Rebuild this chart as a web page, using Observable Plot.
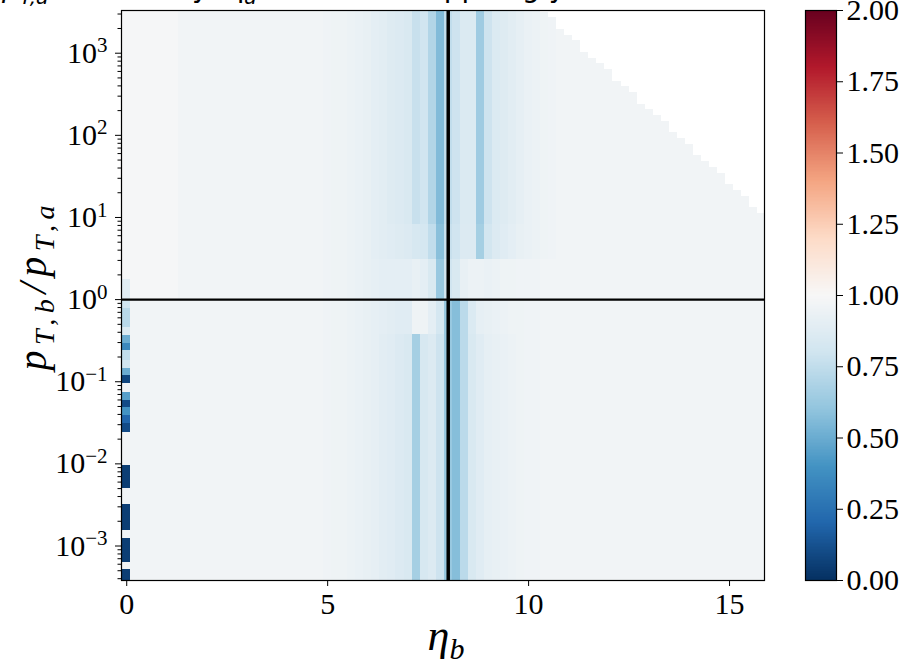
<!DOCTYPE html>
<html><head><meta charset="utf-8">
<script src="https://cdn.jsdelivr.net/npm/d3@7"></script>
<script src="https://cdn.jsdelivr.net/npm/@observablehq/plot@0.6"></script>
<style>
body{margin:0;background:#fff;}
#wrap{position:relative;width:902px;height:670px;overflow:hidden;background:#fff;}
#main{position:absolute;left:0;top:0;}
#cbar{position:absolute;left:770px;top:0;}
</style></head>
<body><div id="wrap"><div id="main"></div><div id="cbar"></div></div>
<script>
// ---------------- data ----------------
const titleParts = ["p", "T,a", " = 1 GeV, y, η", "a", " = 8, ratio to pp, log y"];
const xTicks = [0, 5, 10, 15];
const yMajorTicks = [1e-3, 1e-2, 1e-1, 1e0, 1e1, 1e2, 1e3];
const cbarTicks = [0, 0.25, 0.5, 0.75, 1.0, 1.25, 1.5, 1.75, 2.0];
// RdBu_r colour stops (low -> high)
const cmapStops = ["#053061","#2166ac","#4393c3","#92c5de","#d1e5f0","#f7f7f7","#fddbc7","#f4a582","#d6604d","#b2182b","#67001f"];

// eta_b bin centres (bin width 0.2) and log10(pT,b/pT,a) row edges
const etaBins = d3.range(80).map(i => +(i * 0.2).toFixed(1));
const rowLogEdges = d3.range(102).map(k => +(-3.5 + 0.07 * k).toFixed(2));

const baseValue = 0.97;       // plateau value of the ratio
const upperLeftValue = 0.99;  // slightly higher plateau for eta_b <= 1.2, ratio > 1

// columns with structure around eta_a = 8
const profileEta = [5.0,5.2,5.4,5.6,5.8,6.0,6.2,6.4,6.6,6.8,7.0,7.2,7.4,7.6,7.8,8.0,8.2,8.4,8.6,8.8,9.0,9.2,9.4,9.6,9.8,10.0,10.2,10.4,10.6,10.8];
// ratio > 10^0.93
const upperFar  = [0.96,0.95,0.95,0.94,0.93,0.92,0.90,0.89,0.87,0.86,0.84,0.77,0.80,0.70,0.56,0.75,0.79,0.85,0.85,0.64,0.79,0.85,0.87,0.89,0.91,0.93,0.94,0.95,0.96,0.97];
// 10^0.47 .. 10^0.93
const upperMid  = [0.96,0.95,0.95,0.94,0.93,0.92,0.90,0.89,0.88,0.87,0.86,0.83,0.82,0.75,0.58,0.77,0.80,0.86,0.86,0.66,0.81,0.86,0.88,0.90,0.92,0.93,0.94,0.95,0.96,0.97];
// 1 .. 10^0.47
const upperNear = [0.96,0.95,0.95,0.94,0.93,0.92,0.91,0.90,0.90,0.90,0.90,0.92,0.90,0.84,0.62,0.80,0.84,0.92,0.94,0.94,0.93,0.94,0.95,0.95,0.96,0.96,0.96,0.97,0.97,0.97];
// 10^-0.42 .. 1
const lowerNear = [0.96,0.95,0.95,0.94,0.93,0.92,0.91,0.90,0.89,0.88,0.88,0.95,0.95,0.90,0.82,0.62,0.57,0.73,0.85,0.91,0.92,0.93,0.94,0.95,0.95,0.96,0.96,0.97,0.97,0.97];
// < 10^-0.42
const lowerFar  = [0.96,0.95,0.95,0.94,0.93,0.92,0.91,0.89,0.88,0.86,0.84,0.66,0.83,0.86,0.79,0.62,0.57,0.73,0.84,0.88,0.91,0.92,0.93,0.94,0.95,0.96,0.96,0.97,0.97,0.97];
const bandLimits = [0.93, 0.47, 0, -0.42];

// kinematic limit: top log10 ratio with data for each eta_b column
const edgeEta = [10.4,10.6,10.8,11.0,11.2,11.4,11.6,11.8,12.0,12.2,12.4,12.6,12.8,13.0,13.2,13.4,13.6,13.8,14.0,14.2,14.4,14.6,14.8,15.0,15.2,15.4,15.6,15.8];
const edgeLogMax = [3.49,3.40,3.31,3.22,3.13,3.04,2.95,2.86,2.77,2.68,2.59,2.50,2.41,2.32,2.23,2.14,2.05,1.96,1.87,1.78,1.69,1.60,1.51,1.42,1.33,1.24,1.15,1.06];

// eta_b = 0 column: segments [log10 low, log10 high, value]
const leftLo  = [-0.02,-0.11,-0.34,-0.44,-0.54,-0.62,-0.74,-0.84,-0.92,-1.02,-1.13,-1.23,-1.31,-1.41,-1.51,-1.62,-2.30,-2.81,-3.20,-3.45];
const leftHi  = [ 0.25,-0.02,-0.11,-0.34,-0.44,-0.54,-0.62,-0.74,-0.84,-0.92,-1.02,-1.13,-1.23,-1.31,-1.41,-1.51,-2.02,-2.50,-2.91,-3.29];
const leftVal = [ 0.88, 0.80, 0.72, 0.85, 0.50, 0.35, 0.75, 0.80, 0.50, 0.08, 0.96, 0.45, 0.10, 0.40, 0.20, 0.10, 0.05, 0.05, 0.05, 0.05];

// ---------------- build table ----------------
function bandValues(c) {
  if (c > bandLimits[0]) return upperFar;
  if (c > bandLimits[1]) return upperMid;
  if (c > bandLimits[2]) return upperNear;
  if (c > bandLimits[3]) return lowerNear;
  return lowerFar;
}
const cells = [];
for (const eta of etaBins) {
  const pi = profileEta.indexOf(eta);
  const ei = edgeEta.indexOf(eta);
  for (let k = 0; k < rowLogEdges.length - 1; k++) {
    const lo = rowLogEdges[k], hi = rowLogEdges[k + 1], c = (lo + hi) / 2;
    if (ei >= 0 && c > edgeLogMax[ei]) continue;
    let v = baseValue;
    if (pi >= 0) v = bandValues(c)[pi];
    else if (c > 0 && eta <= 1.2) v = upperLeftValue;
    cells.push({x1: eta - 0.1, x2: eta + 0.1, y1: 10 ** lo, y2: 10 ** hi, v});
  }
}
const leftSegs = leftLo.map((lo, i) => ({x1: -0.1, x2: 0.1, y1: 10 ** lo, y2: 10 ** leftHi[i], v: leftVal[i]}));

const minorTicks = [];
for (let e = -4; e <= 3; e++) for (let m = 2; m <= 9; m++) minorTicks.push(m * 10 ** e);

const colorScale = {type: "linear", domain: [0, 2], interpolate: d3.piecewise(d3.interpolateRgb, cmapStops)};
const serif = "'Liberation Serif', 'DejaVu Serif', serif";

// ---------------- main plot ----------------
const main = Plot.plot({
  width: 800, height: 670,
  marginLeft: 121, marginRight: 36, marginTop: 10, marginBottom: 90,
  x: {domain: [-0.13, 15.87]},
  y: {type: "log", domain: [10 ** -3.42, 10 ** 3.52]},
  color: colorScale,
  style: {fontFamily: serif, fontSize: "30px", color: "black", background: "white", overflow: "visible"},
  marks: [
    Plot.rect(cells, {x1: "x1", x2: "x2", y1: "y1", y2: "y2", fill: "v", clip: true, shapeRendering: "crispEdges"}),
    Plot.rect(leftSegs, {x1: "x1", x2: "x2", y1: "y1", y2: "y2", fill: "v", clip: true, shapeRendering: "crispEdges"}),
    Plot.ruleX([8], {stroke: "black", strokeWidth: 3.5}),
    Plot.ruleY([1], {stroke: "black", strokeWidth: 2.2}),
    Plot.frame({stroke: "black", strokeWidth: 1.2}),
    Plot.axisX({ticks: xTicks, tickSize: 6, tickPadding: 6, fontSize: 30, label: null, tickFormat: d => String(d)}),
    Plot.axisY({ticks: yMajorTicks, tickSize: 6, tickPadding: 8, fontSize: 30, label: null,
      tickFormat: d => "10^" + Math.round(Math.log10(d))}),
    Plot.axisY({ticks: minorTicks.filter(t => t > 10 ** -3.42 && t < 10 ** 3.52), tickSize: 3.5, label: null, tickFormat: () => ""})
  ]
});
document.getElementById("main").appendChild(main);

const NS = "http://www.w3.org/2000/svg";
// superscripts for the y tick labels
main.querySelectorAll('g[aria-label="y-axis tick label"] text').forEach(t => {
  const s = t.textContent;
  if (!s.startsWith("10^")) return;
  const exp = s.slice(3).replace("-", "\u2212");
  while (t.firstChild) t.removeChild(t.firstChild);
  const a = document.createElementNS(NS, "tspan"); a.textContent = "10";
  const b = document.createElementNS(NS, "tspan"); b.textContent = exp;
  b.setAttribute("dy", "-0.5em"); b.setAttribute("font-size", "21px");
  t.appendChild(a); t.appendChild(b);
});

const svg = d3.select(main);
// y label
const yl = svg.append("text")
  .attr("transform", "translate(46,288) rotate(-90)")
  .attr("text-anchor", "middle")
  .attr("font-family", serif).attr("font-style", "italic")
  .attr("font-size", 40).attr("fill", "black")
  .attr("textLength", 165).attr("lengthAdjust", "spacing");
yl.append("tspan").text("p");
yl.append("tspan").attr("dy", 8).attr("font-size", 28).text("T,b");
yl.append("tspan").attr("dy", -8).text("/p");
yl.append("tspan").attr("dy", 8).attr("font-size", 28).text("T,a");
// x label
const xl = svg.append("text")
  .attr("x", 446).attr("y", 650).attr("text-anchor", "middle")
  .attr("font-family", serif).attr("font-style", "italic")
  .attr("font-size", 44).attr("fill", "black");
xl.append("tspan").text("η");
xl.append("tspan").attr("dy", 9).attr("font-size", 30).text("b");
// title (mostly above the visible area, as in the reference)
const tl = svg.append("text")
  .attr("x", 2).attr("y", -3)
  .attr("text-anchor", "start")
  .attr("font-family", "'DejaVu Sans', sans-serif")
  .attr("font-size", 28).attr("fill", "black");
const tY = [-3, 4, -3, 4, -3];
const tSize = [28, 20, 28, 20, 28];
titleParts.forEach((p, i) => {
  const ts = tl.append("tspan").attr("y", tY[i]).attr("font-size", tSize[i]).text(p);
  if (i < 2 || i === 3) ts.attr("font-style", "italic");
});

// ---------------- colour bar ----------------
const ramp = d3.range(400).map(i => ({y1: i * 0.005, y2: (i + 1) * 0.005, v: (i + 0.5) * 0.005}));
const cbar = Plot.plot({
  width: 132, height: 670,
  marginLeft: 35, marginRight: 66, marginTop: 10, marginBottom: 90,
  x: {domain: [0, 1], axis: null},
  y: {domain: [0, 2]},
  color: colorScale,
  style: {fontFamily: serif, fontSize: "30px", color: "black", background: "transparent", overflow: "visible"},
  marks: [
    Plot.rect(ramp, {x1: 0, x2: 1, y1: "y1", y2: "y2", fill: "v", shapeRendering: "crispEdges"}),
    Plot.frame({stroke: "black", strokeWidth: 1.2}),
    Plot.axisY({anchor: "right", ticks: cbarTicks, tickSize: 6, tickPadding: 4, fontSize: 30, label: null,
      tickFormat: d3.format(".2f")})
  ]
});
document.getElementById("cbar").appendChild(cbar);
</script>
</body></html>
